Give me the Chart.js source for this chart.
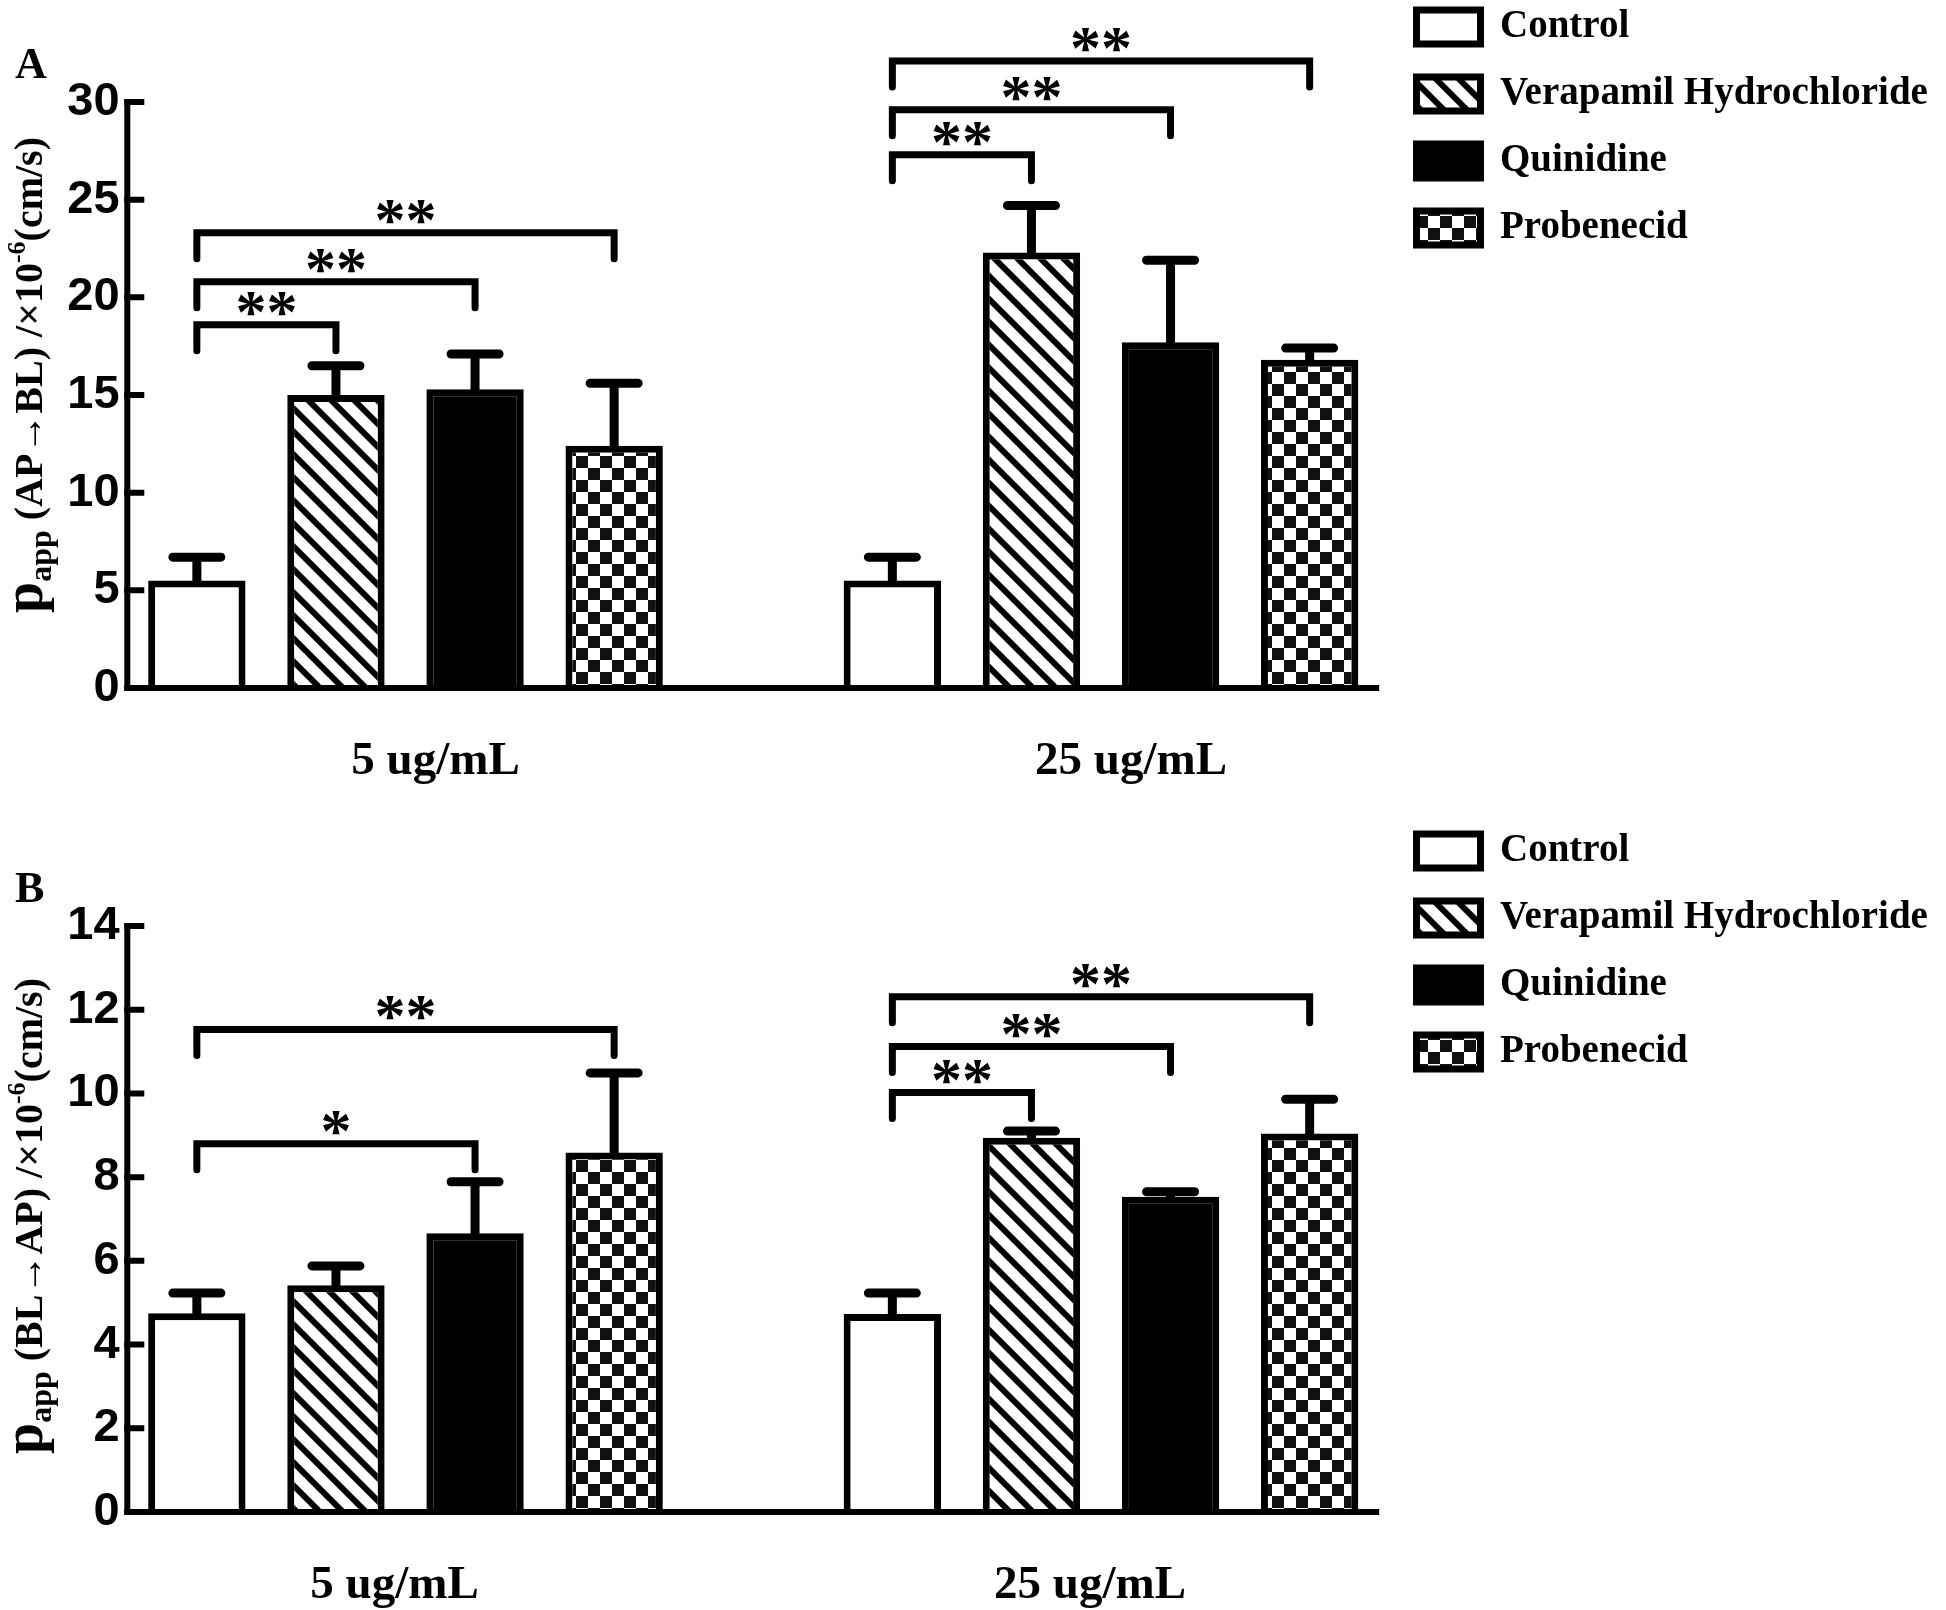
<!DOCTYPE html>
<html>
<head>
<meta charset="utf-8">
<title>Papp AP-BL / BL-AP</title>
<script src="https://cdn.jsdelivr.net/npm/chart.js@4.4.0/dist/chart.umd.min.js"></script>
<style>
  html, body { margin: 0; padding: 0; background: #fff; }
  canvas { display: block; }
</style>
</head>
<body>
<canvas id="chartA" width="1946" height="824"></canvas>
<canvas id="chartB" width="1946" height="786"></canvas>
<script>
// Values (x10^-6 cm/s), mean and upper error
const concentrations = ['5 ug/mL', '25 ug/mL'];
const treatments = ['Control', 'Verapamil Hydrochloride', 'Quinidine', 'Probenecid'];

// Panel A: AP -> BL
const controlA = [5.5, 5.5];
const controlErrA = [1.2, 1.2];
const verapamilA = [15.0, 22.3];
const verapamilErrA = [1.5, 2.4];
const quinidineA = [15.3, 17.7];
const quinidineErrA = [1.8, 4.2];
const probenecidA = [12.4, 16.8];
const probenecidErrA = [3.2, 0.6];
const ticksA = [0, 5, 10, 15, 20, 25, 30];
// [concentration index, bar from, bar to, bracket height, label]
const bracketsA = [
    [0, 0, 1, 18.6, '**'],
    [0, 0, 2, 20.8, '**'],
    [0, 0, 3, 23.3, '**'],
    [1, 0, 1, 27.3, '**'],
    [1, 0, 2, 29.6, '**'],
    [1, 0, 3, 32.1, '**']
];

// Panel B: BL -> AP
const controlB = [4.75, 4.73];
const controlErrB = [0.48, 0.5];
const verapamilB = [5.42, 8.94];
const verapamilErrB = [0.46, 0.16];
const quinidineB = [6.66, 7.53];
const quinidineErrB = [1.23, 0.12];
const probenecidB = [8.59, 9.04];
const probenecidErrB = [1.9, 0.82];
const ticksB = [0, 2, 4, 6, 8, 10, 12, 14];
const bracketsB = [
    [0, 0, 2, 8.8, '*'],
    [0, 0, 3, 11.53, '**'],
    [1, 0, 1, 10.02, '**'],
    [1, 0, 2, 11.12, '**'],
    [1, 0, 3, 12.31, '**']
];

const SERIF = '"Liberation Serif", "Times New Roman", serif';
const SANS = '"Liberation Sans", Arial, sans-serif';
const AXIS_START = -0.4;     // where the y axis line sits on the category scale
const AXIS_END = 1.4;
const LABEL_EDGE = -0.411;   // right edge of the y tick labels

function makeHatch(ctx) {
    const tile = document.createElement('canvas');
    tile.width = 23; tile.height = 23;
    const g = tile.getContext('2d');
    g.fillStyle = '#fff';
    g.fillRect(0, 0, 23, 23);
    g.strokeStyle = '#000';
    g.lineWidth = 6;
    g.beginPath();
    g.moveTo(-6, -6); g.lineTo(29, 29);
    g.moveTo(-6, 17); g.lineTo(6, 29);
    g.moveTo(17, -6); g.lineTo(29, 6);
    g.stroke();
    return ctx.createPattern(tile, 'repeat');
}

function makeChecker(ctx) {
    const tile = document.createElement('canvas');
    tile.width = 24; tile.height = 24;
    const g = tile.getContext('2d');
    g.fillStyle = '#fff';
    g.fillRect(0, 0, 24, 24);
    g.fillStyle = '#111';
    g.fillRect(0, 0, 12, 12);
    g.fillRect(12, 12, 12, 12);
    return ctx.createPattern(tile, 'repeat');
}

function drawAxisTitle(ctx, parts, cx, cy) {
    const styles = {
        big: { size: 56, dy: 0 },
        sub: { size: 32, dy: 9 },
        main: { size: 40, dy: 0 },
        sup: { size: 26, dy: -17 }
    };
    ctx.save();
    ctx.translate(cx, cy);
    ctx.rotate(-Math.PI / 2);
    ctx.fillStyle = '#000';
    ctx.textAlign = 'left';
    ctx.textBaseline = 'alphabetic';
    let total = 0;
    parts.forEach(p => {
        ctx.font = `bold ${styles[p[1]].size}px ${SERIF}`;
        total += ctx.measureText(p[0]).width;
    });
    let u = -total / 2;
    parts.forEach(p => {
        const s = styles[p[1]];
        ctx.font = `bold ${s.size}px ${SERIF}`;
        ctx.fillText(p[0], u, s.dy);
        u += ctx.measureText(p[0]).width;
    });
    ctx.restore();
}

// error bars, axis lines, ticks, brackets, title
const figureExtras = {
    id: 'figureExtras',
    afterLayout(chart, args, opts) {
        const lg = chart.legend;
        if (!lg) return;
        const pad = lg.options.labels.padding;
        lg.left = opts.legendX - pad;
        lg.right = lg.left + 560;
        lg.top = opts.legendY - pad;
        lg.bottom = lg.top + 600;
        lg.width = 560;
        lg.height = 600;
    },
    afterDatasetsDraw(chart, args, opts) {
        const ctx = chart.ctx;
        const x = chart.scales.x;
        const y = chart.scales.y;
        ctx.save();
        ctx.strokeStyle = '#000';
        ctx.fillStyle = '#000';

        // error bars (upper only)
        ctx.lineCap = 'round';
        ctx.lineWidth = 9;
        chart.data.datasets.forEach((ds, di) => {
            chart.getDatasetMeta(di).data.forEach((bar, i) => {
                const top = y.getPixelForValue(ds.data[i]);
                const end = y.getPixelForValue(ds.data[i] + ds.errorBars[i]);
                ctx.beginPath();
                ctx.moveTo(bar.x, top);
                ctx.lineTo(bar.x, end);
                ctx.moveTo(bar.x - 24, end);
                ctx.lineTo(bar.x + 24, end);
                ctx.stroke();
            });
        });

        // axes with inward ticks
        const x0 = x.getPixelForValue(AXIS_START);
        const x1 = x.getPixelForValue(AXIS_END);
        const yb = y.getPixelForValue(y.min);
        const yt = y.getPixelForValue(y.max);
        ctx.lineCap = 'butt';
        ctx.lineJoin = 'miter';
        ctx.lineWidth = 6;
        ctx.beginPath();
        ctx.moveTo(x0, yt - 3);
        ctx.lineTo(x0, yb);
        ctx.lineTo(x1, yb);
        ctx.stroke();
        ctx.beginPath();
        y.ticks.forEach(t => {
            const py = y.getPixelForValue(t.value);
            ctx.moveTo(x0 - 3, py);
            ctx.lineTo(x0 + 17, py);
        });
        ctx.stroke();

        // significance brackets
        ctx.lineWidth = 7;
        ctx.lineCap = 'round';
        ctx.font = `bold 62px ${SERIF}`;
        ctx.textAlign = 'center';
        ctx.textBaseline = 'alphabetic';
        opts.brackets.forEach(([g, a, b, h, label]) => {
            const xa = chart.getDatasetMeta(a).data[g].x;
            const xb = chart.getDatasetMeta(b).data[g].x;
            const py = y.getPixelForValue(h);
            ctx.beginPath();
            ctx.moveTo(xa, py + 26);
            ctx.lineTo(xa, py);
            ctx.lineTo(xb, py);
            ctx.lineTo(xb, py + 26);
            ctx.stroke();
            ctx.fillText(label, (xa + xb) / 2, py + 7);
        });
        ctx.restore();
    },
    afterDraw(chart, args, opts) {
        const ctx = chart.ctx;
        ctx.save();
        ctx.fillStyle = '#000';
        ctx.font = `bold 44px ${SERIF}`;
        ctx.textAlign = 'left';
        ctx.textBaseline = 'alphabetic';
        ctx.fillText(opts.letter, 15, 78);
        ctx.restore();
        drawAxisTitle(ctx, opts.title, 42, opts.titleY);
    }
};

function buildPanel(canvasId, p) {
    const canvas = document.getElementById(canvasId);
    const ctx = canvas.getContext('2d');
    const fills = ['#ffffff', makeHatch(ctx), '#000000', makeChecker(ctx)];
    const datasets = treatments.map((name, i) => ({
        label: name,
        data: p.values[i],
        errorBars: p.errors[i],
        backgroundColor: fills[i],
        borderColor: '#000',
        borderWidth: 7,
        clip: false
    }));
    const bottomSpace = canvas.height - 688;

    return new Chart(ctx, {
        type: 'bar',
        data: { labels: concentrations, datasets: datasets },
        options: {
            responsive: false,
            animation: false,
            layout: { padding: { left: 405.5, right: 845, top: 102, bottom: 0 } },
            datasets: { bar: { categoryPercentage: 0.8, barPercentage: 0.7 } },
            scales: {
                x: {
                    type: 'category',
                    offset: false,
                    grid: { display: false },
                    border: { display: false },
                    ticks: {
                        color: '#000',
                        font: { family: SERIF, size: 47, weight: 'bold' },
                        padding: 38,
                        labelOffset: p.labelOffset,
                        maxRotation: 0,
                        autoSkip: false
                    },
                    afterFit: scale => { scale.height = bottomSpace; }
                },
                y: {
                    position: { x: LABEL_EDGE },
                    min: p.ticks[0],
                    max: p.ticks[p.ticks.length - 1],
                    afterBuildTicks: scale => { scale.ticks = p.ticks.map(v => ({ value: v })); },
                    grid: { display: false },
                    border: { display: false },
                    ticks: {
                        color: '#000',
                        font: { family: SANS, size: 47, weight: 'bold' },
                        padding: 0
                    }
                }
            },
            plugins: {
                tooltip: { enabled: false },
                legend: {
                    position: 'chartArea',
                    align: 'start',
                    labels: {
                        color: '#000',
                        font: { family: SERIF, size: 39, weight: 'bold' },
                        boxWidth: 64,
                        boxHeight: 34,
                        padding: 28
                    }
                },
                figureExtras: {
                    brackets: p.brackets,
                    letter: p.letter,
                    title: p.title,
                    titleY: p.titleY,
                    legendX: 1416.5,
                    legendY: 7.5
                }
            }
        },
        plugins: [figureExtras]
    });
}

buildPanel('chartA', {
    values: [controlA, verapamilA, quinidineA, probenecidA],
    errors: [controlErrA, verapamilErrA, quinidineErrA, probenecidErrA],
    ticks: ticksA,
    brackets: bracketsA,
    labelOffset: 30,
    letter: 'A',
    title: [['p', 'big'], ['app', 'sub'], [' (AP\u2192BL) /\u00d710', 'main'], ['-6', 'sup'], ['(cm/s)', 'main']],
    titleY: 375
});

buildPanel('chartB', {
    values: [controlB, verapamilB, quinidineB, probenecidB],
    errors: [controlErrB, verapamilErrB, quinidineErrB, probenecidErrB],
    ticks: ticksB,
    brackets: bracketsB,
    labelOffset: -11,
    letter: 'B',
    title: [['p', 'big'], ['app', 'sub'], [' (BL\u2192AP) /\u00d710', 'main'], ['-6', 'sup'], ['(cm/s)', 'main']],
    titleY: 392
});
</script>
</body>
</html>
